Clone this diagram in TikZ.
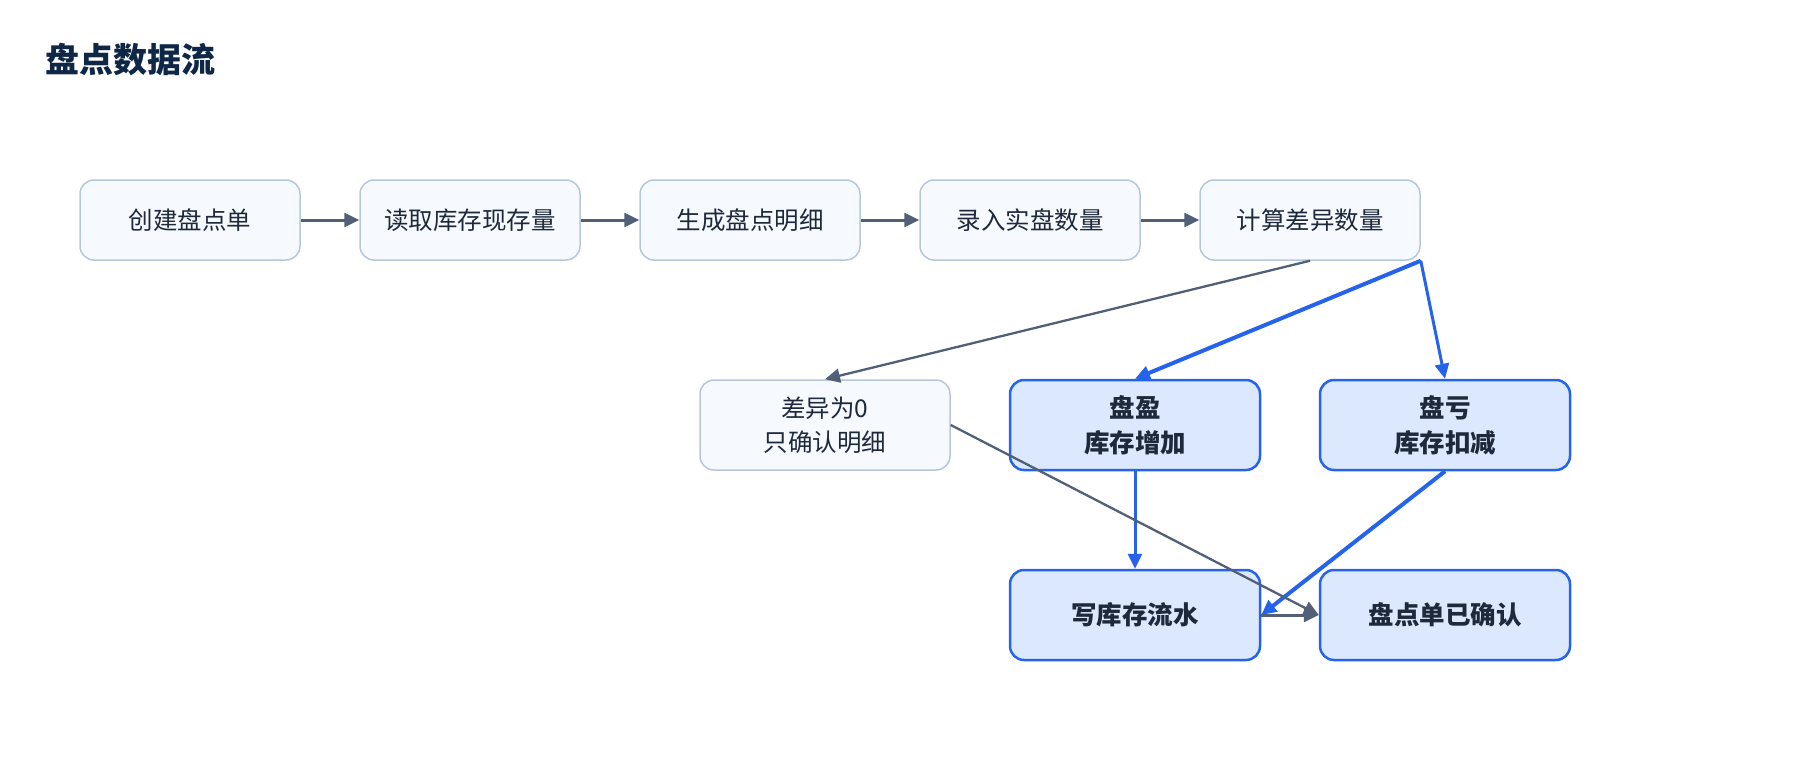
\documentclass[tikz,border=0pt]{standalone}
\usepackage{fontspec}
\setmainfont{Noto Sans CJK SC}
\usetikzlibrary{arrows.meta}
\definecolor{navy}{HTML}{0F2747}
\definecolor{txt}{HTML}{1E293B}
\definecolor{lbord}{HTML}{B6C7DD}
\definecolor{lfill}{HTML}{F6F9FE}
\definecolor{bbord}{HTML}{2563EB}
\definecolor{bfill}{HTML}{DBE8FD}
\definecolor{garr}{HTML}{526077}
\tikzset{
  lbox/.style={draw=lbord, fill=lfill, line width=1.5pt, rounded corners=14pt,
    minimum width=220pt, minimum height=80pt, text=txt, font=\fontsize{24.5}{34.5}\selectfont, align=center, inner sep=0pt},
  bbox/.style={draw=bbord, fill=bfill, line width=2.5pt, rounded corners=14pt,
    minimum width=250pt, minimum height=90pt, text=txt, font=\fontsize{25.5}{35}\selectfont\bfseries, align=center, inner sep=0pt},
  garrow/.style={draw=garr, line width=3pt, -{Triangle[length=15pt,width=14pt]}},
  gthin/.style={draw=garr, line width=2.3pt, -{Triangle[length=15pt,width=14pt]}},
  barrow/.style={draw=bbord, line width=3pt, -{Triangle[length=15pt,width=14pt]}},
  bthick/.style={barrow, line width=4pt},
}
\begin{document}
\begin{tikzpicture}[x=1pt,y=-1pt]
\useasboundingbox (0,0) rectangle (1800,760);
\node[anchor=west, text=navy, font=\fontsize{34}{40}\selectfont\bfseries] (title) at (42,60) {盘点数据流};
\node[lbox] (c1) at (190,220) {创建盘点单};
\node[lbox] (c2) at (470,220) {读取库存现存量};
\node[lbox] (c3) at (750,220) {生成盘点明细};
\node[lbox] (c4) at (1030,220) {录入实盘数量};
\node[lbox] (c5) at (1310,220) {计算差异数量};
\node[lbox, minimum width=250pt, minimum height=90pt] (dz) at (825,425) {差异为0\\只确认明细};
\node[bbox] (ying) at (1135,425) {盘盈\\库存增加};
\node[bbox] (kui) at (1445,425) {盘亏\\库存扣减};
\node[bbox] (flow) at (1135,615) {写库存流水};
\node[bbox] (conf) at (1445,615) {盘点单已确认};
\draw[garrow] (c1) -- (c2);
\draw[garrow] (c2) -- (c3);
\draw[garrow] (c3) -- (c4);
\draw[garrow] (c4) -- (c5);
\draw[gthin] (c5.south) -- (dz.north);
\draw[bthick] (c5.south east) -- (ying.north);
\draw[barrow] (c5.south east) -- (kui.north);
\draw[barrow] (ying) -- (flow);
\draw[bthick] (kui.south) -- (flow.east);
\draw[gthin] (dz.east) -- (conf.west);
\draw[garrow] (flow) -- (conf);
\end{tikzpicture}
\end{document}
